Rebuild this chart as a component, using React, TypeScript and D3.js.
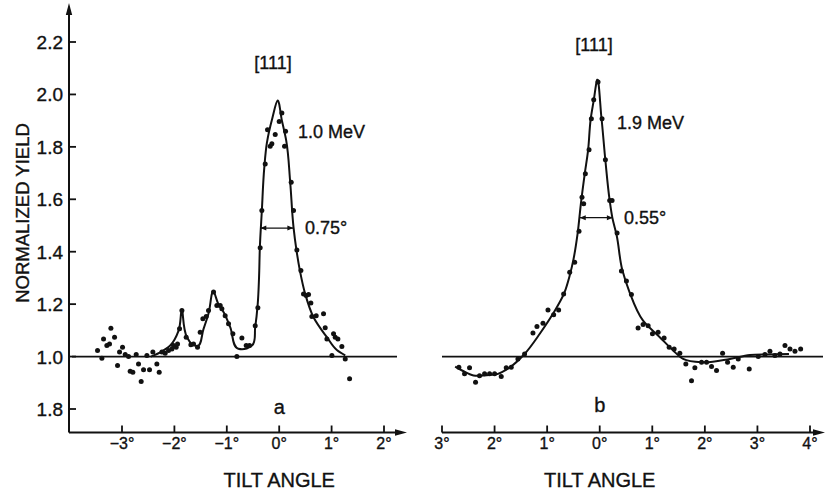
import React from "react";
import * as d3 from "d3";

// ---------- DATA ----------
const yTickValues = [0.8, 1.0, 1.2, 1.4, 1.6, 1.8, 2.0, 2.2];
const yTickLabels = ["1.8", "1.0", "1.2", "1.4", "1.6", "1.8", "2.0", "2.2"];

const xTicksA = [-3, -2, -1, 0, 1, 2];
const xTickLabelsA = ["\u22123°", "\u22122°", "\u22121°", "0°", "1°", "2°"];

const xTicksB = [-3, -2, -1, 0, 1, 2, 3, 4];
const xTickLabelsB = ["3°", "2°", "1°", "0°", "1°", "2°", "3°", "4°"];

// Panel a (1.0 MeV) fitted curve: [tilt angle, normalized yield]
const curveA: [number, number][] = [
  [-2.45, 1.0], [-2.27, 1.016], [-2.08, 1.042], [-1.92, 1.099], [-1.86, 1.178],
  [-1.76, 1.074], [-1.67, 1.048], [-1.57, 1.04], [-1.445, 1.105], [-1.35, 1.163],
  [-1.253, 1.248], [-1.16, 1.2], [-1.06, 1.169], [-0.935, 1.112], [-0.78, 1.03],
  [-0.62, 1.031], [-0.52, 1.042], [-0.458, 1.112], [-0.41, 1.2], [-0.385, 1.3],
  [-0.369, 1.417], [-0.331, 1.557], [-0.285, 1.72], [-0.235, 1.815], [-0.13, 1.91],
  [-0.03, 1.977], [0.052, 1.9], [0.134, 1.824], [0.21, 1.665], [0.273, 1.494],
  [0.33, 1.405], [0.395, 1.328], [0.496, 1.239], [0.655, 1.15], [0.91, 1.074],
  [1.1, 1.025], [1.26, 1.005],
];

// Panel a measured points
const pointsA: [number, number][] = [
  [-3.467, 1.023], [-3.384, 0.994], [-3.352, 1.067], [-3.289, 1.042], [-3.238, 1.048],
  [-3.212, 1.108], [-3.142, 1.074], [-3.085, 0.966], [-3.047, 1.017], [-2.99, 1.036],
  [-2.939, 1.008], [-2.875, 1.0], [-2.844, 0.944], [-2.793, 0.94], [-2.729, 1.008],
  [-2.685, 0.972], [-2.634, 0.905], [-2.589, 0.95], [-2.525, 1.004], [-2.475, 0.95],
  [-2.411, 1.017], [-2.335, 0.972], [-2.29, 0.94], [-2.239, 1.017], [-2.176, 1.013],
  [-2.112, 1.023], [-2.048, 1.029], [-2.017, 1.042], [-1.966, 1.036], [-1.94, 1.048],
  [-1.902, 1.106], [-1.857, 1.176], [-1.775, 1.074], [-1.686, 1.045], [-1.635, 1.048],
  [-1.559, 1.036], [-1.508, 1.093], [-1.457, 1.144], [-1.393, 1.153], [-1.349, 1.176],
  [-1.253, 1.246], [-1.19, 1.195], [-1.126, 1.195], [-1.094, 1.182], [-1.031, 1.156],
  [-0.967, 1.125], [-0.884, 1.087], [-0.808, 1.0], [-0.712, 1.071], [-0.63, 1.042],
  [-0.566, 1.042], [-0.458, 1.118], [-0.407, 1.186], [-0.363, 1.415], [-0.331, 1.557],
  [-0.267, 1.735], [-0.223, 1.865], [-0.172, 1.802], [-0.14, 1.812], [-0.076, 1.847],
  [0.0, 1.897], [0.051, 1.929], [0.102, 1.802], [0.121, 1.86], [0.229, 1.665],
  [0.273, 1.557], [0.337, 1.407], [0.414, 1.328], [0.464, 1.239], [0.515, 1.233],
  [0.56, 1.237], [0.604, 1.204], [0.623, 1.153], [0.706, 1.156], [0.846, 1.163],
  [0.878, 1.11], [0.91, 1.067], [1.006, 1.004], [1.037, 1.087], [1.069, 1.074],
  [1.12, 1.067], [1.196, 1.038], [1.26, 0.991], [1.343, 0.915],
];

// Panel b (1.9 MeV) fitted curve
const curveB: [number, number][] = [
  [-2.75, 0.962], [-2.6, 0.945], [-2.4, 0.928], [-2.15, 0.929], [-1.95, 0.933],
  [-1.71, 0.959], [-1.43, 1.01], [-1.14, 1.087], [-0.89, 1.163], [-0.67, 1.245],
  [-0.57, 1.31], [-0.5, 1.37], [-0.42, 1.47], [-0.36, 1.58], [-0.285, 1.697],
  [-0.222, 1.786], [-0.171, 1.907], [-0.114, 1.977], [-0.05, 2.055], [0.032, 1.913],
  [0.108, 1.748], [0.19, 1.595], [0.24, 1.53], [0.32, 1.465], [0.43, 1.33],
  [0.56, 1.25], [0.825, 1.137], [1.143, 1.074], [1.397, 1.023], [1.587, 0.991],
  [1.968, 0.978], [2.476, 0.991], [2.857, 1.006], [3.2, 1.008], [3.6, 1.01],
];

// Panel b measured points
const pointsB: [number, number][] = [
  [-2.679, 0.959], [-2.571, 0.934], [-2.476, 0.957], [-2.362, 0.902], [-2.286, 0.927],
  [-2.19, 0.934], [-2.095, 0.934], [-2.0, 0.934], [-1.873, 0.924], [-1.778, 0.957],
  [-1.683, 0.959], [-1.556, 0.991], [-1.429, 1.01], [-1.27, 1.09], [-1.194, 1.115],
  [-1.079, 1.127], [-0.984, 1.178], [-0.876, 1.16], [-0.781, 1.178], [-0.686, 1.239],
  [-0.571, 1.322], [-0.476, 1.36], [-0.394, 1.478], [-0.337, 1.608], [-0.305, 1.583],
  [-0.273, 1.697], [-0.203, 1.789], [-0.159, 1.907], [-0.114, 1.98], [-0.032, 2.047],
  [0.044, 1.907], [0.108, 1.751], [0.19, 1.595], [0.235, 1.595], [0.33, 1.471],
  [0.413, 1.326], [0.508, 1.288], [0.603, 1.237], [0.73, 1.109], [0.825, 1.122],
  [0.921, 1.118], [1.003, 1.087], [1.111, 1.093], [1.225, 1.071], [1.321, 1.036],
  [1.416, 1.029], [1.524, 1.013], [1.638, 0.972], [1.746, 0.908], [1.81, 0.957],
  [1.937, 0.978], [2.032, 0.978], [2.127, 0.962], [2.222, 0.947], [2.337, 1.013],
  [2.432, 0.978], [2.54, 0.959], [2.635, 0.991], [2.844, 0.953], [3.016, 1.0],
  [3.143, 1.008], [3.238, 1.02], [3.333, 1.004], [3.429, 1.01], [3.524, 1.042],
  [3.619, 1.029], [3.714, 1.02], [3.822, 1.029],
];

// FWHM markers: [left angle, right angle, yield]
const fwhmA: [number, number, number] = [-0.36, 0.27, 1.49];
const fwhmB: [number, number, number] = [-0.38, 0.25, 1.53];

// ---------- CHART ----------
const W = 825;
const H = 491;
const FONT = "'Liberation Sans', Arial, Helvetica, sans-serif";

export default function App() {
  const y = d3.scaleLinear().domain([0.8, 2.2]).range([409, 42]);
  const xA = d3.scaleLinear().domain([-3, 2]).range([122, 384]);
  const xB = d3.scaleLinear().domain([-3, 4]).range([442, 810]);

  const axisY = 432.5;
  const yAxisX = 69;

  const lineA = d3
    .line<[number, number]>()
    .x((d) => xA(d[0]))
    .y((d) => y(d[1]))
    .curve(d3.curveCatmullRom.alpha(1));
  const lineB = d3
    .line<[number, number]>()
    .x((d) => xB(d[0]))
    .y((d) => y(d[1]))
    .curve(d3.curveCatmullRom.alpha(1));

  const stroke = "#111";
  const textProps = { fill: stroke, stroke: stroke, strokeWidth: 0.35 };

  const arrowHead = (tipX: number, tipY: number, dir: "up" | "right") => {
    const L = 12;
    const hw = 3.2;
    const pts =
      dir === "up"
        ? `${tipX},${tipY} ${tipX - hw},${tipY + L} ${tipX + hw},${tipY + L}`
        : `${tipX},${tipY} ${tipX - L},${tipY - hw} ${tipX - L},${tipY + hw}`;
    return <polygon points={pts} fill={stroke} />;
  };

  const smallArrow = (x1: number, x2: number, yy: number) => (
    <g>
      <line x1={x1} x2={x2} y1={yy} y2={yy} stroke={stroke} strokeWidth={1.3} />
      <polygon points={`${x1},${yy} ${x1 + 6},${yy - 2.5} ${x1 + 6},${yy + 2.5}`} fill={stroke} />
      <polygon points={`${x2},${yy} ${x2 - 6},${yy - 2.5} ${x2 - 6},${yy + 2.5}`} fill={stroke} />
    </g>
  );

  return (
    <svg
      width={W}
      height={H}
      style={{ position: "absolute", left: 0, top: 0, background: "#fff" }}
      fontFamily={FONT}
    >
      <rect x={0} y={0} width={W} height={H} fill="#fff" />

      {/* Y axis */}
      <line x1={yAxisX} x2={yAxisX} y1={axisY} y2={10} stroke={stroke} strokeWidth={2} />
      {arrowHead(yAxisX, 3, "up")}
      {yTickValues.map((v, i) => (
        <g key={"yt" + i}>
          <line x1={yAxisX} x2={yAxisX + 7} y1={y(v)} y2={y(v)} stroke={stroke} strokeWidth={1.8} />
          <text x={yAxisX - 6} y={y(v) + 7} fontSize={19} textAnchor="end" {...textProps}>
            {yTickLabels[i]}
          </text>
        </g>
      ))}
      <text
        transform={`translate(29, 213) rotate(-90)`}
        fontSize={18.5}
        textAnchor="middle"
        {...textProps}
      >
        NORMALIZED YIELD
      </text>

      {/* Panel a x axis */}
      <line x1={yAxisX} x2={400} y1={axisY} y2={axisY} stroke={stroke} strokeWidth={2} />
      {arrowHead(407, axisY, "right")}
      {xTicksA.map((t, i) => (
        <g key={"xa" + i}>
          <line x1={xA(t)} x2={xA(t)} y1={axisY} y2={axisY - 7} stroke={stroke} strokeWidth={1.8} />
          <text x={xA(t)} y={axisY + 16} fontSize={16} textAnchor="middle" {...textProps}>
            {xTickLabelsA[i]}
          </text>
        </g>
      ))}
      <text x={xA(0)} y={487} fontSize={20} textAnchor="middle" {...textProps}>
        TILT ANGLE
      </text>

      {/* Panel b x axis */}
      <line x1={xB(-3)} x2={818} y1={axisY} y2={axisY} stroke={stroke} strokeWidth={2} />
      {arrowHead(825, axisY, "right")}
      {xTicksB.map((t, i) => (
        <g key={"xb" + i}>
          <line x1={xB(t)} x2={xB(t)} y1={axisY} y2={axisY - 7} stroke={stroke} strokeWidth={1.8} />
          <text x={xB(t)} y={axisY + 16} fontSize={16} textAnchor="middle" {...textProps}>
            {xTickLabelsB[i]}
          </text>
        </g>
      ))}
      <text x={xB(0)} y={487} fontSize={20} textAnchor="middle" {...textProps}>
        TILT ANGLE
      </text>

      {/* Baselines at 1.0 */}
      <line x1={yAxisX + 3} x2={397} y1={y(1)} y2={y(1)} stroke={stroke} strokeWidth={1.8} />
      <line x1={xB(-3)} x2={823} y1={y(1)} y2={y(1)} stroke={stroke} strokeWidth={1.8} />

      {/* Panel a curve & points */}
      <path d={lineA(curveA) || ""} fill="none" stroke={stroke} strokeWidth={2} />
      {pointsA.map((p, i) => (
        <circle key={"pa" + i} cx={xA(p[0])} cy={y(p[1])} r={2.5} fill={stroke} />
      ))}

      {/* Panel b curve & points */}
      <path d={lineB(curveB) || ""} fill="none" stroke={stroke} strokeWidth={2} />
      {pointsB.map((p, i) => (
        <circle key={"pb" + i} cx={xB(p[0])} cy={y(p[1])} r={2.5} fill={stroke} />
      ))}

      {/* FWHM markers */}
      {smallArrow(xA(fwhmA[0]), xA(fwhmA[1]), y(fwhmA[2]))}
      {smallArrow(xB(fwhmB[0]), xB(fwhmB[1]), y(fwhmB[2]))}

      {/* Annotations */}
      <text x={273} y={69} fontSize={18} textAnchor="middle" {...textProps}>[111]</text>
      <text x={594} y={51} fontSize={18} textAnchor="middle" {...textProps}>[111]</text>
      <text x={298} y={138} fontSize={18} {...textProps}>1.0 MeV</text>
      <text x={305} y={234} fontSize={18} {...textProps}>0.75°</text>
      <text x={617} y={129} fontSize={18} {...textProps}>1.9 MeV</text>
      <text x={624} y={224} fontSize={18} {...textProps}>0.55°</text>
      <text x={xA(0)} y={414} fontSize={20} textAnchor="middle" {...textProps}>a</text>
      <text x={xB(0)} y={412} fontSize={20} textAnchor="middle" {...textProps}>b</text>
    </svg>
  );
}
